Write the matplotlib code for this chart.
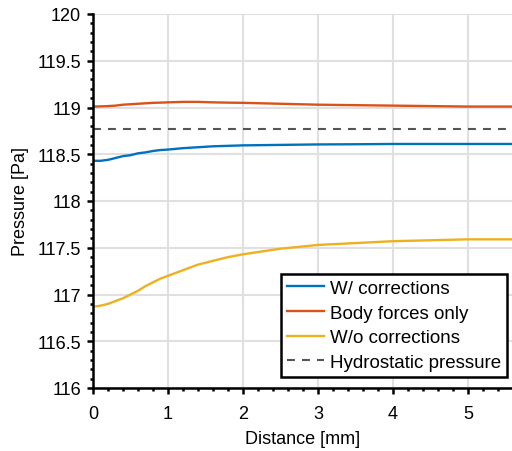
import matplotlib
matplotlib.use("Agg")
import matplotlib.pyplot as plt
from matplotlib.ticker import MultipleLocator

plt.rcParams['font.family'] = ['Liberation Sans', 'DejaVu Sans']

distance = [0, 0.1, 0.2, 0.3, 0.4, 0.5, 0.6, 0.7, 0.8, 0.9, 1.0, 1.2, 1.4, 1.6,
            1.8, 2.0, 2.5, 3.0, 3.5, 4.0, 4.5, 5.0, 5.6]
w_corr = [118.43, 118.43, 118.44, 118.46, 118.48, 118.49, 118.51, 118.52, 118.535,
          118.545, 118.55, 118.565, 118.575, 118.585, 118.59, 118.595, 118.60,
          118.605, 118.607, 118.61, 118.61, 118.61, 118.61]
body_only = [119.01, 119.012, 119.015, 119.02, 119.03, 119.035, 119.04, 119.045,
             119.05, 119.052, 119.055, 119.06, 119.06, 119.055, 119.052, 119.05,
             119.04, 119.03, 119.025, 119.02, 119.015, 119.01, 119.01]
wo_corr = [116.87, 116.88, 116.90, 116.93, 116.96, 117.0, 117.04, 117.09, 117.13,
           117.17, 117.20, 117.26, 117.32, 117.36, 117.40, 117.43, 117.49, 117.53,
           117.55, 117.57, 117.58, 117.59, 117.59]
hydrostatic = 118.77

labels = ['W/ corrections', 'Body forces only', 'W/o corrections', 'Hydrostatic pressure']
colors = ['#0072BD', '#D95319', '#EDB120', '#555555']

W, H = 512, 452
fig = plt.figure(figsize=(W / 100, H / 100), dpi=100)
ax = fig.add_axes([93 / W, 1 - 389 / H, (W - 93) / W, (389 - 15) / H])

ax.plot(distance, w_corr, color=colors[0], lw=1.7, label=labels[0])
ax.plot(distance, body_only, color=colors[1], lw=1.7, label=labels[1])
ax.plot(distance, wo_corr, color=colors[2], lw=1.7, label=labels[2])
ax.axhline(hydrostatic, color=colors[3], lw=1.5, ls=(0, (3.8, 3.4)), label=labels[3])

ax.set_xlim(0, 5.587)
ax.set_ylim(116, 120)
ax.xaxis.set_major_locator(MultipleLocator(1))
ax.xaxis.set_minor_locator(MultipleLocator(0.2))
ax.yaxis.set_minor_locator(MultipleLocator(0.1))
ax.set_yticks([116, 116.5, 117, 117.5, 118, 118.5, 119, 119.5, 120])
ax.set_yticklabels(['116', '116.5', '117', '117.5', '118', '118.5', '119', '119.5', '120'])

ax.grid(True, which='major', color='#e0e0e0', lw=1.5)
ax.set_axisbelow(True)
for s in ['top', 'right']:
    ax.spines[s].set_visible(False)
for s in ['left', 'bottom']:
    ax.spines[s].set_linewidth(1.8)
    ax.spines[s].set_color('black')

ax.tick_params(which='major', direction='out', length=4, width=1.8, labelsize=13)
ax.tick_params(which='minor', direction='out', length=2.5, width=1.8)
ax.tick_params(axis='x', which='major', pad=8)
ax.tick_params(axis='y', which='major', pad=4.5)

ax.set_xlabel('Distance [mm]', fontsize=13, labelpad=6)
ax.set_ylabel('Pressure [Pa]', fontsize=13, labelpad=6)

leg = ax.legend(loc='lower right', bbox_to_anchor=(506.5 / W, 1 - 377.5 / H),
                bbox_transform=fig.transFigure, borderaxespad=0, fontsize=13.5,
                frameon=True, fancybox=False, handlelength=2.0, handletextpad=0.3,
                labelspacing=0.4, borderpad=0.3)
leg.get_frame().set_edgecolor('black')
leg.get_frame().set_linewidth(1.8)
leg.get_frame().set_alpha(1)

fig.savefig('out.png', dpi=100)
